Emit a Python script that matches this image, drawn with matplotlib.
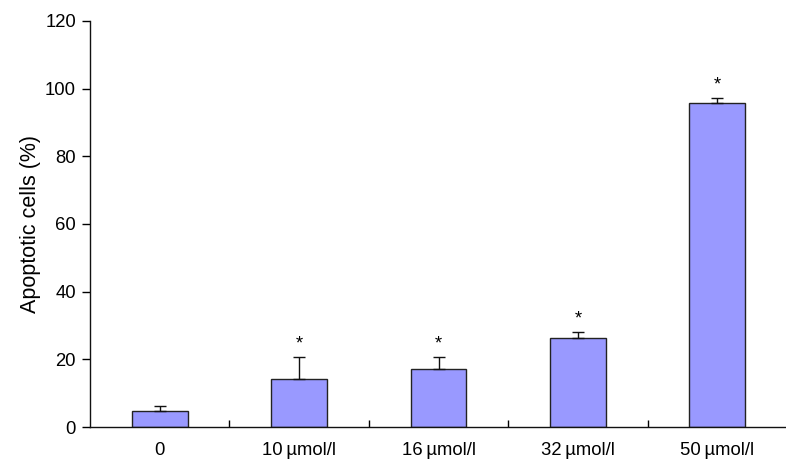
import matplotlib
matplotlib.use("Agg")
import matplotlib.pyplot as plt
import numpy as np

plt.rcParams['font.family'] = ['Liberation Sans', 'DejaVu Sans']

categories = ["0", "10\u2009\u00b5mol/l", "16\u2009\u00b5mol/l", "32\u2009\u00b5mol/l", "50\u2009\u00b5mol/l"]
values = [4.8, 14.1, 17.1, 26.3, 95.7]
errors = [1.4, 6.6, 3.6, 1.7, 1.6]
significant = [False, True, True, True, True]
y_ticks = [0, 20, 40, 60, 80, 100, 120]

FS = 13.3
fig = plt.figure(figsize=(7.86, 4.63), dpi=100)
ax = fig.add_axes([90/786, 36/463, 697/786, 406/463])

x = np.arange(len(categories))
ax.bar(x, values, width=0.4, color='#9999FF', edgecolor='#222222', linewidth=1.0, zorder=2)
ax.errorbar(x, values, yerr=[np.zeros(len(values)), errors], fmt='none',
            ecolor='#111111', elinewidth=1.0, capsize=4, capthick=1.0, zorder=3)
for xi, v, e, s in zip(x, values, errors, significant):
    if s:
        ax.text(xi, v + e + 1.4, '*', ha='center', va='bottom', fontsize=FS)

ax.set_xlim(-0.5, len(categories) - 0.5)
ax.set_ylim(0, 120)
ax.set_yticks(y_ticks)
ax.set_yticklabels([str(t) for t in y_ticks], fontsize=FS)
ax.set_xticks(x)
ax.set_xticklabels(categories, fontsize=FS)
ax.tick_params(axis='x', length=0, pad=10.5)
ax.set_xticks(np.arange(len(categories) - 1) + 0.5, minor=True)
ax.tick_params(axis='x', which='minor', direction='in', length=5, width=1)
ax.tick_params(axis='y', direction='out', length=6, width=1, pad=4)
ax.set_ylabel('Apoptotic cells (%)', fontsize=15.5, labelpad=3)

for sp in ['top', 'right']:
    ax.spines[sp].set_visible(False)
for sp in ['left', 'bottom']:
    ax.spines[sp].set_linewidth(1.0)
    ax.spines[sp].set_color('#111111')

fig.savefig('out.png', dpi=100)
